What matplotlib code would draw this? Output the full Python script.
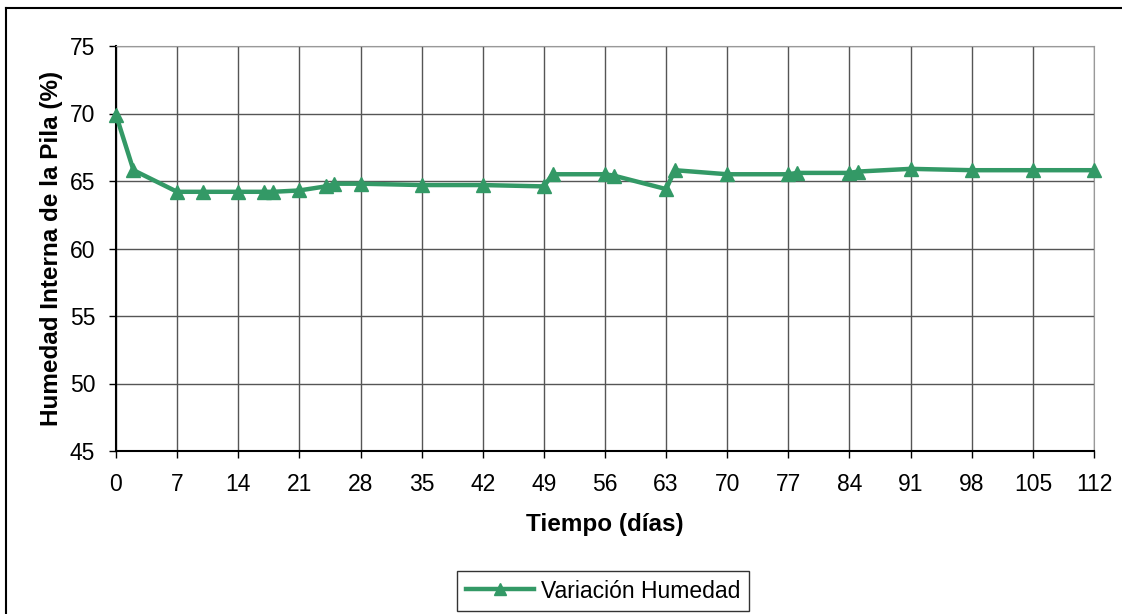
import numpy as np
import matplotlib.pyplot as plt
from matplotlib.lines import Line2D

# Datos
dias = [0, 2, 7, 10, 14, 17, 18, 21, 24, 25, 28, 35, 42, 49, 50, 56, 57,
        63, 64, 70, 77, 78, 84, 85, 91, 98, 105, 112]
humedad = [69.9, 65.8, 64.2, 64.2, 64.2, 64.2, 64.2, 64.3, 64.6, 64.8, 64.8,
           64.7, 64.7, 64.6, 65.5, 65.5, 65.4, 64.4, 65.8, 65.5, 65.5, 65.6,
           65.6, 65.7, 65.9, 65.8, 65.8, 65.8]
xticks = np.arange(0, 113, 7)
yticks = np.arange(45, 76, 5)

verde = '#339966'
plt.rcParams['font.family'] = ['Liberation Sans', 'DejaVu Sans']

W, H = 1122, 614
fig = plt.figure(figsize=(W / 100, H / 100), dpi=100)
ax = fig.add_axes([116 / W, 1 - 451 / H, (1094 - 116) / W, (451 - 46) / H])

ax.plot(dias, humedad, color=verde, linewidth=3.2, marker='^', markersize=10,
        label='Variación Humedad', clip_on=False, zorder=5)

ax.set_xlim(0, 112)
ax.set_ylim(45, 75)
ax.set_xticks(xticks)
ax.set_yticks(yticks)
ax.grid(True, color='#555555', linewidth=1)
ax.tick_params(axis='both', labelsize=16.5, length=5, width=1, color='black')
ax.tick_params(axis='x', direction='out', pad=11)
ax.tick_params(axis='y', direction='out', pad=10)

for lado in ['top', 'right']:
    ax.spines[lado].set_color('#999999')
for lado in ['left', 'bottom']:
    ax.spines[lado].set_color('black')
    ax.spines[lado].set_linewidth(1.5)

ax.set_xlabel('Tiempo (días)', fontsize=17.5, fontweight='bold', labelpad=12)
ax.set_ylabel('Humedad Interna de la Pila (%)', fontsize=17.5, fontweight='bold', labelpad=5)

leg = ax.legend(loc='center', bbox_to_anchor=(603 / W, 1 - 591 / H),
                bbox_transform=fig.transFigure, fontsize=16.5, frameon=True,
                fancybox=False, edgecolor='black', handlelength=3.0,
                handletextpad=0.3, borderpad=0.35, markerscale=0.8)
leg.get_frame().set_linewidth(1)

# marco exterior del grafico
fig.add_artist(Line2D([6 / W, 1], [1 - 8 / H, 1 - 8 / H], color='black', linewidth=1.5,
                      transform=fig.transFigure))
fig.add_artist(Line2D([6 / W, 6 / W], [0, 1 - 8 / H], color='black', linewidth=1.5,
                      transform=fig.transFigure))

fig.savefig('out.png', dpi=100)
